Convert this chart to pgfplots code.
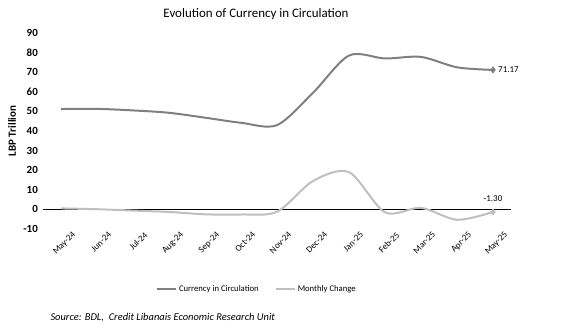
\documentclass[border=0pt]{standalone}
\usepackage{fontspec}
\setmainfont{Carlito}
\usepackage{pgfplots}
\pgfplotsset{compat=1.18}
\definecolor{cur}{HTML}{7F7F7F}
\definecolor{chg}{HTML}{BFBFBF}
\begin{document}
\begin{tikzpicture}[x=1bp,y=1bp]
\useasboundingbox (0,0) rectangle (569,330);
\begin{axis}[
  at={(43bp,101bp)}, anchor=south west,
  scale only axis, width=468bp, height=196bp,
  xmin=-0.5, xmax=12.5, ymin=-10, ymax=90,
  clip=false,
  ytick={-10,0,...,90},
  xtick={0,...,12},
  xticklabels={May-24,Jun-24,Jul-24,Aug-24,Sep-24,Oct-24,Nov-24,Dec-24,Jan-25,Feb-25,Mar-25,Apr-25,May-25},
  x tick label style={rotate=45, anchor=north east, font=\fontsize{9}{10}\selectfont, inner sep=0pt, xshift=6bp, yshift=-9bp},
  y tick label style={font=\fontsize{11}{12}\selectfont\bfseries, inner sep=2pt, xshift=-3bp},
  /pgf/number format/assume math mode=true,
  axis line style={draw=none},
  major tick length=0pt,
  ylabel={LBP Trillion},
  ylabel style={font=\fontsize{11}{12}\selectfont\bfseries, yshift=2bp},
  legend style={at={(0.457,-0.306)}, anchor=center, draw=none, legend columns=2,
    font=\fontsize{8.7}{10}\selectfont, /tikz/every even column/.append style={column sep=14bp}},
  legend image code/.code={\draw[#1] (0bp,0bp) -- (19bp,0bp);},
]
\addplot[black, line width=0.8pt, forget plot] coordinates {(-0.5,0) (12.5,0)};
\addplot[cur, line width=2pt, smooth, tension=0.5, mark=diamond*, mark indices={13}, mark size=2pt] coordinates {
(0,51.2) (1,51.3) (2,50.5) (3,49.3) (4,46.8) (5,44.2) (6,43.0) (7,59.5) (8,78.5) (9,77.0) (10,77.8) (11,72.5) (12,71.17)};
\addlegendentry{Currency in Circulation}
\addplot[chg, line width=2pt, smooth, tension=0.5, mark=diamond*, mark indices={13}, mark size=2pt] coordinates {
(0,0.5) (1,0.1) (2,-0.6) (3,-1.3) (4,-2.5) (5,-2.6) (6,-1.2) (7,14.5) (8,19.0) (9,-1.5) (10,0.8) (11,-5.3) (12,-1.30)};
\addlegendentry{Monthly Change}
\node[right, font=\fontsize{9}{10}\selectfont, inner sep=0pt, xshift=5bp] at (axis cs:12,71.17) {71.17};
\node[above, font=\fontsize{9}{10}\selectfont] at (axis cs:12,2) {-1.30};
\end{axis}
\node[font=\fontsize{13}{15}\selectfont] at (256,316) {Evolution of Currency in Circulation};
\node[anchor=west, font=\fontsize{10.5}{12}\selectfont\itshape] at (47,12) {Source: BDL,\ \ Credit Libanais Economic Research Unit};
\end{tikzpicture}
\end{document}
